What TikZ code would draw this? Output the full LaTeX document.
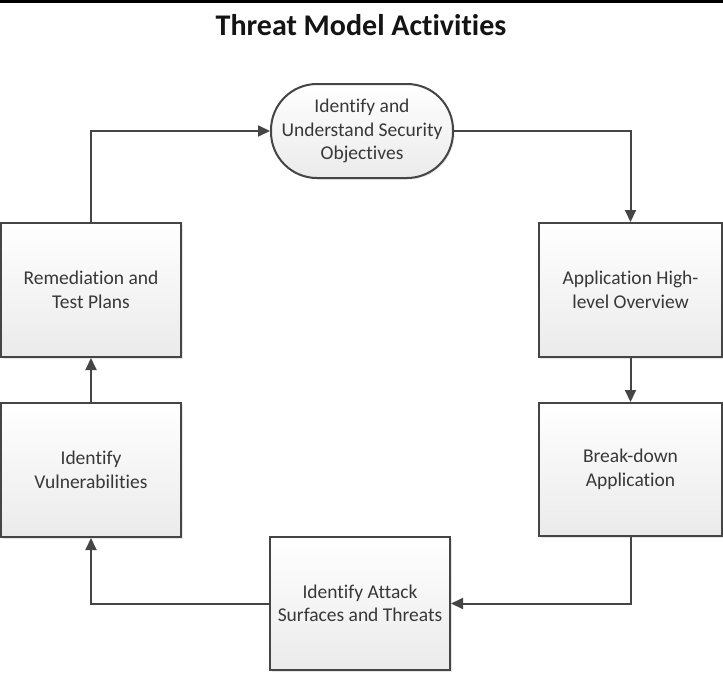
\documentclass[tikz,border=0pt]{standalone}
\usepackage{fontspec}
\setmainfont{Carlito}[Ligatures=NoCommon]
\usetikzlibrary{arrows.meta,shadows}
\definecolor{edge}{HTML}{454545}
\definecolor{txt}{HTML}{383838}
\tikzset{
  activity/.style={draw=edge, line width=2pt, top color=white, bottom color=black!8,
    minimum width=180pt, minimum height=134pt, align=center, text=txt,
    font=\fontsize{19.5}{23.5}\selectfont, inner sep=2pt,
    drop shadow={shadow xshift=1.5pt, shadow yshift=-1.5pt, opacity=0.2}},
  goal/.style={activity, rounded corners=46pt, minimum width=182pt, minimum height=94pt},
  flow/.style={draw=edge, line width=2pt, -{Triangle[length=12pt,width=11pt]}}
}
\begin{document}
\begin{tikzpicture}[x=1pt,y=-1pt]
\useasboundingbox (0,0) rectangle (723,675);
\fill (0,0) rectangle (723,2.5);
\node[font=\bfseries\fontsize{30}{34}\selectfont, text=black!92] (title) at (361,25) {Threat Model Activities};
\node[goal] (obj) at (362,131) {Identify and\\Understand Security\\Objectives};
\node[activity] (rem) at (91,290) {Remediation and\\Test Plans};
\node[activity, minimum width=183pt] (app) at (630.5,290) {Application High-\\level Overview};
\node[activity, minimum width=183pt, minimum height=133pt] (brk) at (630.5,469.5) {Break-down\\Application};
\node[activity] (vul) at (91,470) {Identify\\Vulnerabilities};
\node[activity, minimum height=133pt] (atk) at (360,603.5) {Identify Attack\\Surfaces and Threats};
\draw[flow] (rem.north) |- (obj.west);
\draw[flow] (obj.east) -| (app.north);
\draw[flow] (app.south) -- (brk.north);
\draw[flow] (brk.south) |- (atk.east);
\draw[flow] (atk.west) -| (vul.south);
\draw[flow] (vul.north) -- (rem.south);
\end{tikzpicture}
\end{document}
